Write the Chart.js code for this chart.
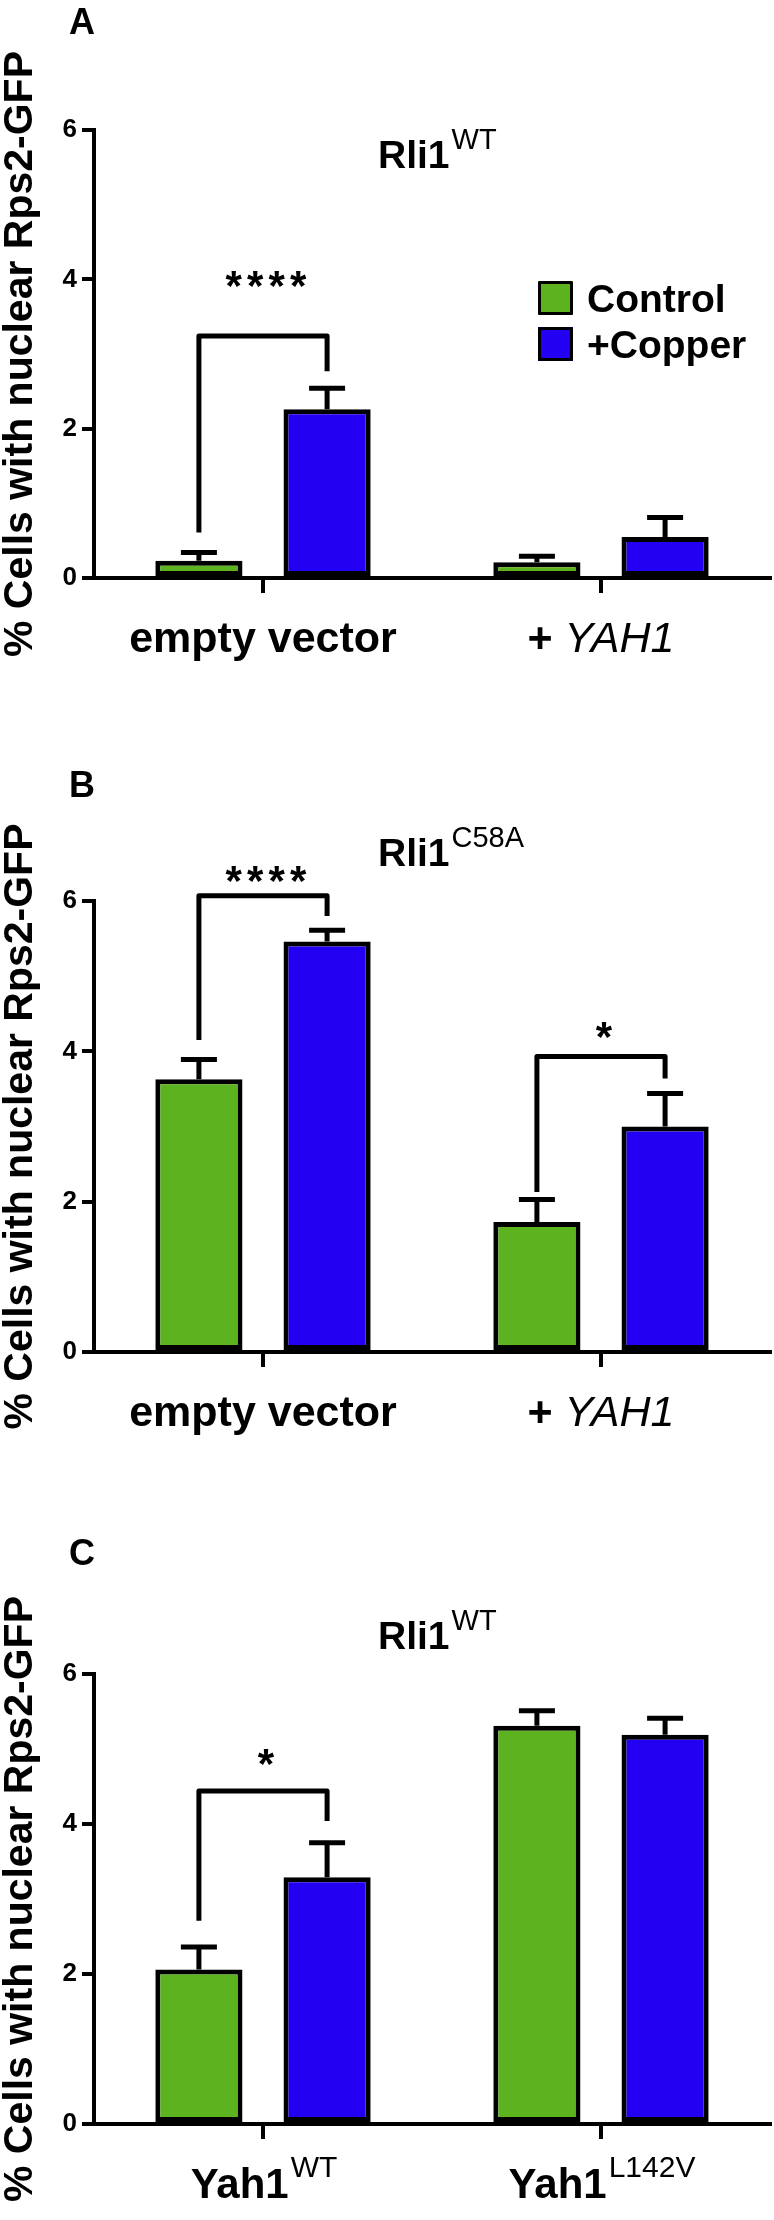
<!DOCTYPE html>
<html lang="en">
<head>
<meta charset="UTF-8">
<title>Nuclear Rps2-GFP</title>
<script src="https://cdn.jsdelivr.net/npm/chart.js@4.4.1/dist/chart.umd.min.js"></script>
<style>
  body { margin:0; background:#fff; }
  .wrap { position:relative; width:774px; height:2220px; }
  .wrap canvas { position:absolute; left:0; }
</style>
</head>
<body>
<div class="wrap">
  <canvas id="chartA" width="774" height="740" style="top:0"></canvas>
  <canvas id="chartB" width="774" height="740" style="top:740px"></canvas>
  <canvas id="chartC" width="774" height="740" style="top:1480px"></canvas>
</div>
<script>
// ---- data ----
const seriesNames = ['Control', '+Copper'];
const seriesColors = ['#5db31f', '#2400f2'];
const yTicks = [0, 2, 4, 6];
const yTitle = '% Cells with nuclear Rps2-GFP';

// ^ = superscript from here, _..._ = italic
const catsA = ['empty vector', '+ _YAH1_'];
const controlA = [0.23, 0.21];
const copperA = [2.26, 0.55];
const controlErrA = [0.11, 0.08];
const copperErrA = [0.28, 0.26];
// [category, left foot, top, right foot, label level, label]
const sigA = [[0, 0.61, 3.24, 2.77, 4.05, '****']];

const catsB = ['empty vector', '+ _YAH1_'];
const controlB = [3.63, 1.73];
const copperB = [5.46, 3.00];
const controlErrB = [0.26, 0.30];
const copperErrB = [0.15, 0.44];
const sigB = [[0, 4.15, 6.07, 5.80, 6.40, '****'], [1, 2.13, 3.93, 3.64, 4.32, '*']];

const catsC = ['Yah1^WT', 'Yah1^L142V'];
const controlC = [2.06, 5.31];
const copperC = [3.29, 5.19];
const controlErrC = [0.30, 0.20];
const copperErrC = [0.46, 0.22];
const sigC = [[0, 2.71, 4.44, 4.04, 4.93, '*']];

const FONT = "'Liberation Sans', Arial, Helvetica, sans-serif";
Chart.defaults.font.family = FONT;
Chart.defaults.color = '#000';

function parseRich(s) {
  const segs = [];
  let sup = false, it = false, buf = '';
  for (const ch of s) {
    if (ch === '^' || ch === '_') {
      if (buf) segs.push({ t: buf, sup, it });
      buf = '';
      if (ch === '^') sup = true; else it = !it;
    } else buf += ch;
  }
  if (buf) segs.push({ t: buf, sup, it });
  return segs;
}

// draws "Rli1^WT" style text; align 'left' or 'center'
function drawRich(ctx, str, x, y, size, supSize, align) {
  const segs = parseRich(str);
  const fontOf = s => s.sup ? `${supSize}px ${FONT}` : s.it ? `italic ${size}px ${FONT}` : `bold ${size}px ${FONT}`;
  let w = 0;
  segs.forEach(s => { ctx.font = fontOf(s); s.w = ctx.measureText(s.t).width; w += s.w; });
  let cx = align === 'center' ? x - w / 2 : x;
  ctx.textAlign = 'left';
  ctx.textBaseline = 'alphabetic';
  segs.forEach(s => {
    ctx.font = fontOf(s);
    ctx.fillText(s.t, cx + (s.sup ? 2 : 0), s.sup ? y - size * 0.49 : y);
    cx += s.w + (s.sup ? 2 : 0);
  });
}

const decor = {
  id: 'decor',
  afterDraw(chart, args, o) {
    const ctx = chart.ctx;
    const y = chart.scales.y, x = chart.scales.x;
    ctx.save();
    ctx.fillStyle = '#000';
    ctx.strokeStyle = '#000';

    // panel letter and title
    ctx.font = `bold 36px ${FONT}`;
    ctx.textAlign = 'left';
    ctx.fillText(o.letter, 69, o.letterY);
    drawRich(ctx, o.title, 378, o.titleY, 39, 29, 'left');

    // category labels
    chart.data.labels.forEach((lab, i) => {
      drawRich(ctx, lab, x.getPixelForValue(i), y.bottom + 74, o.labelSize, 30, 'center');
    });

    // error bars (upper only)
    ctx.lineWidth = 5;
    ctx.lineCap = 'butt';
    chart.data.datasets.forEach((ds, di) => {
      chart.getDatasetMeta(di).data.forEach((bar, i) => {
        const y0 = y.getPixelForValue(ds.data[i]);
        const y1 = y.getPixelForValue(ds.data[i] + ds.errs[i]);
        ctx.beginPath();
        ctx.moveTo(bar.x, y0);
        ctx.lineTo(bar.x, y1);
        ctx.moveTo(bar.x - 18, y1);
        ctx.lineTo(bar.x + 18, y1);
        ctx.stroke();
      });
    });

    // significance brackets
    ctx.lineJoin = 'round';
    o.sig.forEach(([c, l, t, r, lv, txt]) => {
      const x1 = chart.getDatasetMeta(0).data[c].x;
      const x2 = chart.getDatasetMeta(1).data[c].x;
      ctx.beginPath();
      ctx.moveTo(x1, y.getPixelForValue(l));
      ctx.lineTo(x1, y.getPixelForValue(t));
      ctx.lineTo(x2, y.getPixelForValue(t));
      ctx.lineTo(x2, y.getPixelForValue(r));
      ctx.stroke();
      ctx.font = `bold 42px ${FONT}`;
      ctx.textAlign = 'center';
      const step = 21.5, cx = (x1 + x2) / 2 + 3;
      const base = y.getPixelForValue(lv) + 0.57 * 42;
      [...txt].forEach((ch, k) => ctx.fillText(ch, cx + (k - (txt.length - 1) / 2) * step, base));
    });

    // legend
    if (o.legend) {
      const L = o.legend;
      chart.data.datasets.forEach((ds, di) => {
        const top = L.y + di * 46;
        ctx.fillStyle = ds.backgroundColor;
        ctx.fillRect(L.x, top, 35, 34);
        ctx.lineWidth = 3;
        ctx.strokeRect(L.x + 1.5, top + 1.5, 32, 31);
        ctx.fillStyle = '#000';
        ctx.font = `bold 39px ${FONT}`;
        ctx.textAlign = 'left';
        ctx.textBaseline = 'alphabetic';
        ctx.fillText(ds.label, L.x + 49, top + 31);
      });
    }
    ctx.restore();
  }
};

function makePanel(id, cats, ctrl, cop, ctrlErr, copErr, opts) {
  new Chart(document.getElementById(id), {
    type: 'bar',
    data: {
      labels: cats,
      datasets: [
        { label: seriesNames[0], data: ctrl, errs: ctrlErr, backgroundColor: seriesColors[0] },
        { label: seriesNames[1], data: cop, errs: copErr, backgroundColor: seriesColors[1] }
      ]
    },
    options: {
      responsive: false,
      animation: false,
      devicePixelRatio: 1,
      layout: { padding: { top: opts.top, right: 4, left: 0, bottom: 0 } },
      datasets: {
        bar: {
          borderColor: '#000', borderWidth: 5, borderSkipped: false,
          categoryPercentage: 0.7585, barPercentage: 0.68
        }
      },
      plugins: {
        legend: { display: false },
        tooltip: { enabled: false },
        decor: opts
      },
      scales: {
        x: {
          afterFit: s => { s.height = 740 - opts.bottom; },
          grid: { display: true, offset: false, drawOnChartArea: false, drawTicks: true, tickLength: 15, lineWidth: 4, color: '#000' },
          border: { display: true, color: '#000', width: 4 },
          ticks: { display: false }
        },
        y: {
          min: 0, max: 6,
          afterFit: s => { s.width = 94; },
          afterBuildTicks: s => { s.ticks = yTicks.map(v => ({ value: v })); },
          grid: { display: true, drawOnChartArea: false, drawTicks: true, tickLength: 12, lineWidth: 4, color: '#000' },
          border: { display: true, color: '#000', width: 4 },
          ticks: { padding: 5, font: { size: 26, weight: 'bold' }, color: '#000' },
          title: {
            display: true, text: yTitle, color: '#000',
            font: { size: 41, weight: 'bold', lineHeight: 1 }, padding: 0
          }
        }
      }
    },
    plugins: [decor]
  });
}

makePanel('chartA', catsA, controlA, copperA, controlErrA, copperErrA,
  { top: 130, bottom: 578, letter: 'A', letterY: 34, title: 'Rli1^WT', titleY: 168, labelSize: 43, sig: sigA, legend: { x: 538, y: 281 } });
makePanel('chartB', catsB, controlB, copperB, controlErrB, copperErrB,
  { top: 161, bottom: 612, letter: 'B', letterY: 57, title: 'Rli1^C58A', titleY: 126, labelSize: 43, sig: sigB, legend: null });
makePanel('chartC', catsC, controlC, copperC, controlErrC, copperErrC,
  { top: 194, bottom: 644, letter: 'C', letterY: 85, title: 'Rli1^WT', titleY: 169, labelSize: 42, sig: sigC, legend: null });
</script>
</body>
</html>
